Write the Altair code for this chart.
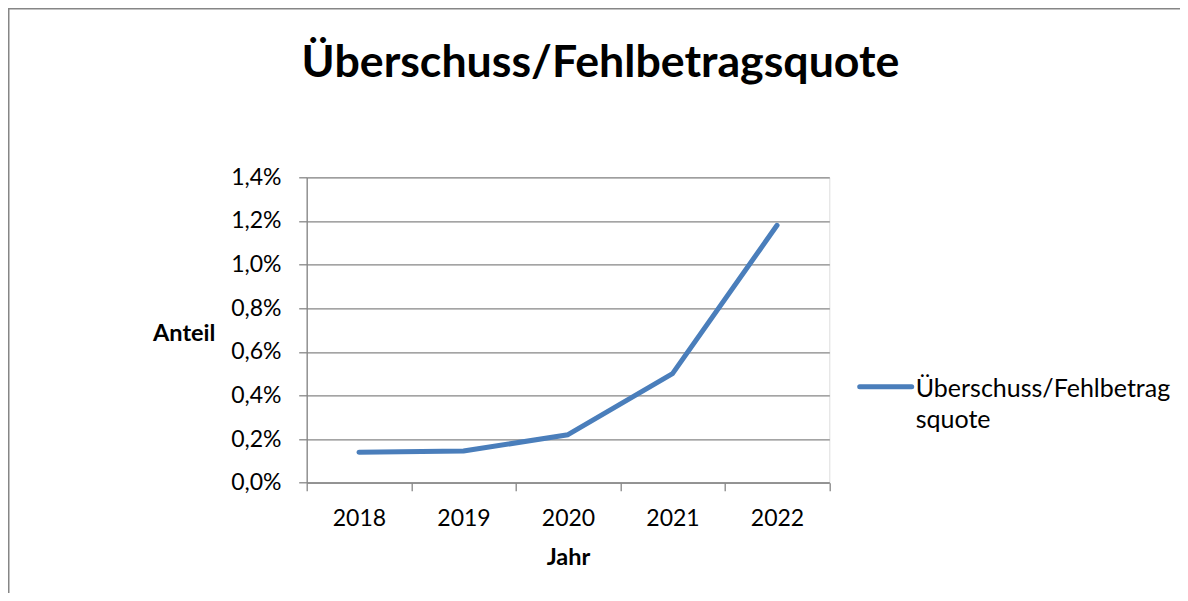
import altair as alt
import pandas as pd

# ---- data ----
years = ["2018", "2019", "2020", "2021", "2022"]
quote = [0.0014, 0.00145, 0.0022, 0.0050, 0.0118]
series_name = "Überschuss/Fehlbetragsquote"
legend_lines = ["Überschuss/Fehlbetrag", "squote"]
y_ticks = [0.0, 0.002, 0.004, 0.006, 0.008, 0.010, 0.012, 0.014]

df = pd.DataFrame({"Jahr": years, "Anteil": quote, "Serie": [series_name] * len(years)})

FONT = "Lato"
GRID = "#868686"
BLUE = "#4A7EBB"

W, H = 522.6, 305.4
PL, PT = 298.7, 169.3
TOTAL_W, TOTAL_H = 1172, 585

line = alt.Chart(df).mark_line(strokeWidth=5, strokeCap="round", strokeJoin="round").encode(
    x=alt.X(
        "Jahr:O",
        bandPosition=0.5,
        scale=alt.Scale(type="band", paddingInner=0, paddingOuter=0),
        sort=years,
        axis=alt.Axis(
            title="Jahr",
            labelAngle=0,
            tickBand="extent",
            grid=False,
            tickSize=8,
            tickColor=GRID,
            tickWidth=1.3,
            domainColor=GRID,
            domainWidth=1.3,
            labelFont=FONT,
            labelFontSize=23,
            labelColor="#000000",
            labelBaseline="alphabetic",
            labelPadding=35,
            titleFont=FONT,
            titleFontSize=23.5,
            titleFontWeight="bold",
            titleColor="#000000",
            titleBaseline="alphabetic",
            titleY=82,
        ),
    ),
    y=alt.Y(
        "Anteil:Q",
        scale=alt.Scale(domain=[0, 0.014], nice=False, zero=True),
        axis=alt.Axis(
            title="Anteil",
            values=y_ticks,
            labelExpr="replace(format(datum.value, '.1%'), '.', ',')",
            grid=True,
            gridColor=GRID,
            gridWidth=1.3,
            tickSize=8,
            tickColor=GRID,
            tickWidth=1.3,
            domainColor=GRID,
            domainWidth=1.3,
            labelFont=FONT,
            labelFontSize=23,
            labelColor="#000000",
            labelPadding=17.7,
            titleFont=FONT,
            titleFontSize=23.5,
            titleFontWeight="bold",
            titleColor="#000000",
            titleAngle=0,
            titleAlign="center",
            titleBaseline="alphabetic",
            titleX=-123,
            titleY=162.7,
        ),
    ),
    stroke=alt.Stroke("Serie:N", scale=alt.Scale(range=[BLUE]), legend=None),
)

one = pd.DataFrame({"k": [0]})

frame = alt.Chart(one).mark_rect(fill=None, stroke=GRID, strokeWidth=1.5).encode(
    x=alt.value(-PL + 0.75),
    x2=alt.value(2000),
    y=alt.value(-PT + 0.75),
    y2=alt.value(2000),
)

title = alt.Chart(one).mark_text(
    font=FONT, fontSize=44.7, fontWeight="bold", color="#000000",
    align="center", baseline="alphabetic",
).encode(x=alt.value(293.8), y=alt.value(-100.5), text=alt.value(series_name))

legend_sym = alt.Chart(one).mark_rule(stroke=BLUE, strokeWidth=5, strokeCap="round").encode(
    x=alt.value(553), x2=alt.value(605), y=alt.value(209.4)
)
legend_txt = alt.Chart(one).mark_text(
    font=FONT, fontSize=25, color="#000000", align="left", baseline="alphabetic", lineHeight=31.6,
).encode(x=alt.value(609), y=alt.value(219.4), text=alt.value(legend_lines))

chart = alt.layer(frame, title, line, legend_sym, legend_txt).properties(
    width=W,
    height=H,
    autosize=alt.AutoSizeParams(type="none"),
    padding={"left": PL, "top": PT, "right": TOTAL_W - PL - W, "bottom": TOTAL_H - PT - H},
).configure_view(stroke=None).configure(background="white")

chart.save("out.html", embed_options={"renderer": "svg", "actions": False})
